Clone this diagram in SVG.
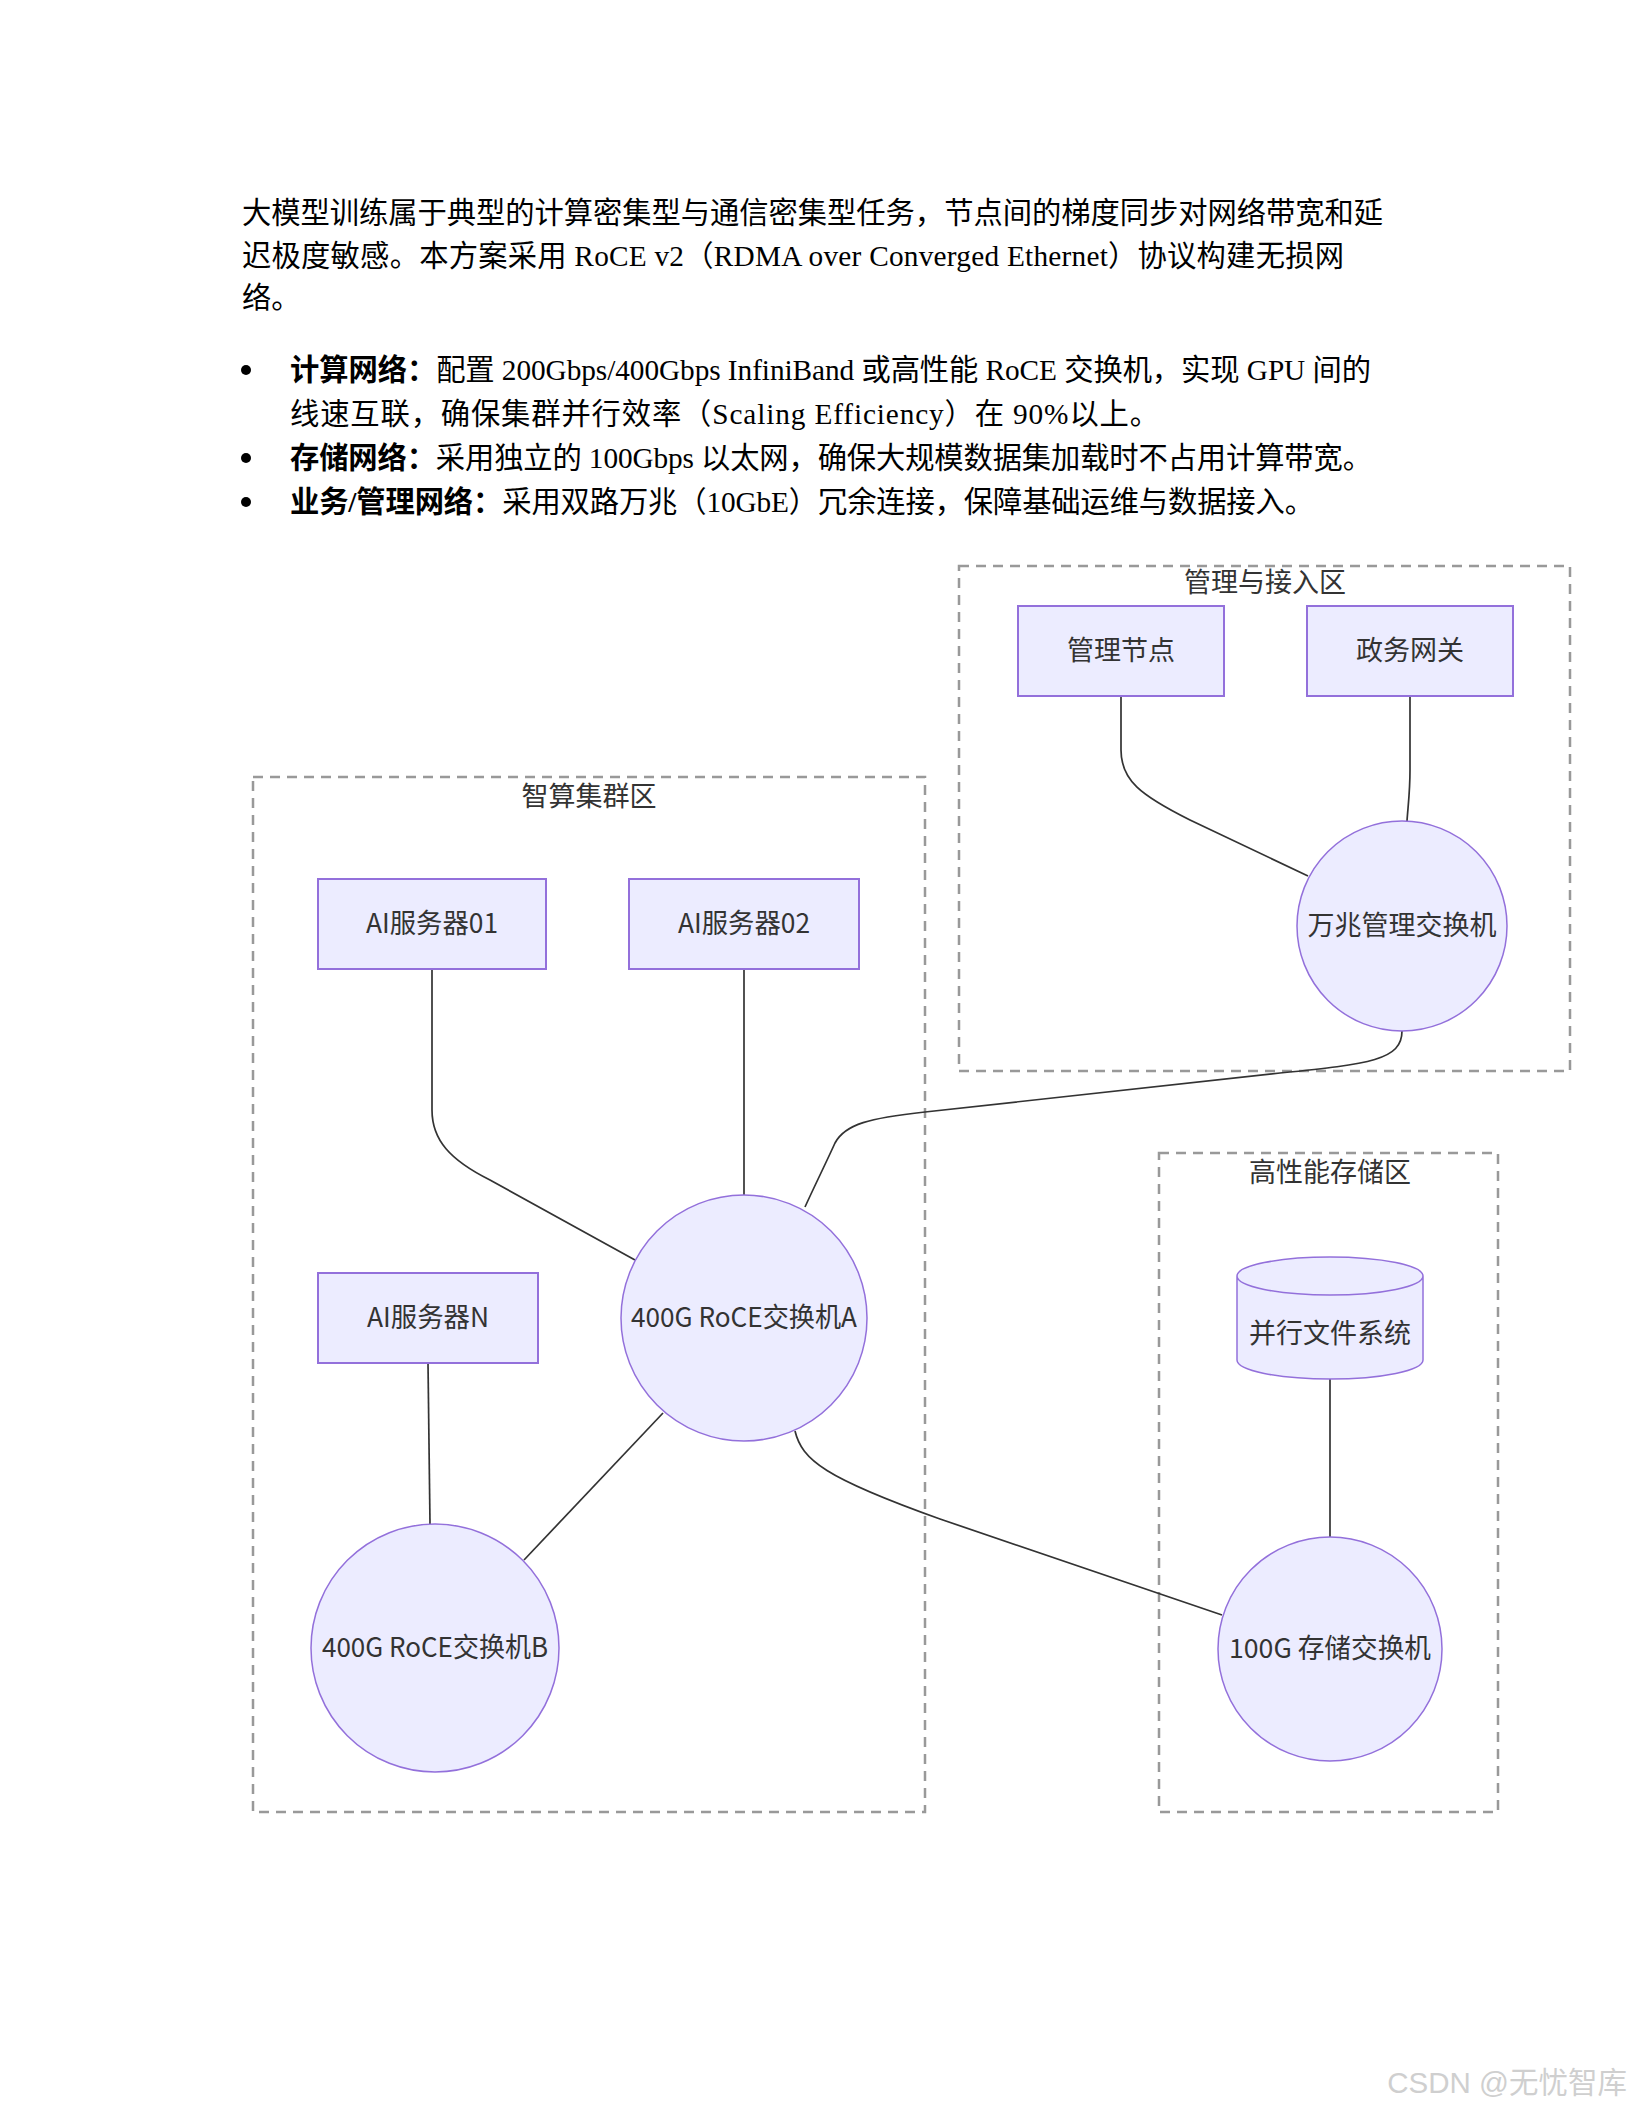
<svg xmlns="http://www.w3.org/2000/svg" width="1632" height="2112" viewBox="0 0 1632 2112">
<style>
.body{font-family:'Liberation Serif','Noto Sans CJK SC',serif;font-size:29.3px;fill:#000}
.b{font-weight:bold}
.cl{fill:#fff;stroke:#999;stroke-width:2.5;stroke-dasharray:10 7}
.ct{font-family:'Noto Sans CJK SC',sans-serif;font-size:27px;fill:#333;text-anchor:middle;dominant-baseline:central}
.nr{fill:#ECECFF;stroke:#9370DB;stroke-width:2}
.nc{fill:#ECECFF;stroke:#9370DB;stroke-width:1.5}
.nt{font-family:'Noto Sans CJK SC',sans-serif;font-size:27px;fill:#333;text-anchor:middle;dominant-baseline:central}
.e{fill:none;stroke:#333;stroke-width:1.7}
</style>
<rect width="1632" height="2112" fill="#fff"/>
<g id="text">
<text class="body" x="242" y="223" textLength="1141" lengthAdjust="spacing">大模型训练属于典型的计算密集型与通信密集型任务，节点间的梯度同步对网络带宽和延</text>
<text class="body" x="242" y="266" textLength="1102" lengthAdjust="spacing">迟极度敏感。本方案采用 RoCE v2（RDMA over Converged Ethernet）协议构建无损网</text>
<text class="body" x="242" y="308">络。</text>
<circle cx="246" cy="370" r="5" fill="#000"/>
<circle cx="246" cy="458" r="5" fill="#000"/>
<circle cx="246" cy="502" r="5" fill="#000"/>
<text class="body" x="290" y="380" textLength="1081" lengthAdjust="spacing"><tspan class="b">计算网络：</tspan>配置 200Gbps/400Gbps InfiniBand 或高性能 RoCE 交换机，实现 GPU 间的</text>
<text class="body" x="290" y="424" textLength="869" lengthAdjust="spacing">线速互联，确保集群并行效率（Scaling Efficiency）在 90%以上。</text>
<text class="body" x="290" y="468" textLength="1082" lengthAdjust="spacing"><tspan class="b">存储网络：</tspan>采用独立的 100Gbps 以太网，确保大规模数据集加载时不占用计算带宽。</text>
<text class="body" x="290" y="512" textLength="1024" lengthAdjust="spacing"><tspan class="b">业务/管理网络：</tspan>采用双路万兆（10GbE）冗余连接，保障基础运维与数据接入。</text>
</g>
<g id="clusters">
<g id="cluster-mgmt"><rect class="cl" x="959" y="566" width="611" height="505"/><text class="ct" x="1265" y="580">管理与接入区</text></g>
<g id="cluster-compute"><rect class="cl" x="253" y="777" width="672" height="1035"/><text class="ct" x="589" y="794">智算集群区</text></g>
<g id="cluster-storage"><rect class="cl" x="1159" y="1153" width="339" height="659"/><text class="ct" x="1330" y="1170">高性能存储区</text></g>
</g>
<g id="connectors">
<path class="e" d="M1121,696 L1121,750 C1121,780 1140,795 1190,820 L1308,876"/>
<path class="e" d="M1410,696 L1410,770 C1410,792 1408,806 1407,821"/>
<path class="e" d="M1402,1031 C1402,1060 1370,1064 1280,1073 L925,1112 C870,1118 845,1124 835,1143 C825,1165 815,1185 805,1207"/>
<path class="e" d="M432,969 L432,1110 C432,1140 450,1160 490,1180 L635,1260"/>
<path class="e" d="M744,969 L744,1195"/>
<path class="e" d="M428,1363 L430,1524"/>
<path class="e" d="M663,1413 L524,1560"/>
<path class="e" d="M795,1431 C802,1460 825,1478 940,1519 L1222,1615"/>
<path class="e" d="M1330,1379 L1330,1538"/>
</g>
<g id="node-mgmt"><rect class="nr" x="1018" y="606" width="206" height="90"/><text class="nt" x="1121" y="648">管理节点</text></g>
<g id="node-gov"><rect class="nr" x="1307" y="606" width="206" height="90"/><text class="nt" x="1410" y="648">政务网关</text></g>
<g id="node-10g"><circle class="nc" cx="1402" cy="926" r="105"/><text class="nt" x="1402" y="923">万兆管理交换机</text></g>
<g id="node-ai01"><rect class="nr" x="318" y="879" width="228" height="90"/><text class="nt" x="432" y="921" textLength="132" lengthAdjust="spacingAndGlyphs">AI服务器01</text></g>
<g id="node-ai02"><rect class="nr" x="629" y="879" width="230" height="90"/><text class="nt" x="744" y="921" textLength="132" lengthAdjust="spacingAndGlyphs">AI服务器02</text></g>
<g id="node-ain"><rect class="nr" x="318" y="1273" width="220" height="90"/><text class="nt" x="428" y="1315" textLength="122" lengthAdjust="spacingAndGlyphs">AI服务器N</text></g>
<g id="node-a"><circle class="nc" cx="744" cy="1318" r="123"/><text class="nt" x="744" y="1315" textLength="226" lengthAdjust="spacingAndGlyphs">400G RoCE交换机A</text></g>
<g id="node-b"><circle class="nc" cx="435" cy="1648" r="124"/><text class="nt" x="435" y="1645" textLength="226" lengthAdjust="spacingAndGlyphs">400G RoCE交换机B</text></g>
<g id="node-fs"><path class="nr" style="stroke-width:1.5" d="M1237,1276 a93,19 0 0,0 186,0 a93,19 0 0,0 -186,0 l0,84 a93,19 0 0,0 186,0 l0,-84"/><text class="nt" x="1330" y="1331">并行文件系统</text></g>
<g id="node-100g"><circle class="nc" cx="1330" cy="1649" r="112"/><text class="nt" x="1330" y="1646" textLength="202" lengthAdjust="spacingAndGlyphs">100G 存储交换机</text></g>
<text x="1627" y="2093" text-anchor="end" font-family="'Liberation Sans','Noto Sans CJK SC',sans-serif" font-size="29.5" fill="#cfcfcf">CSDN @无忧智库</text>
</svg>
